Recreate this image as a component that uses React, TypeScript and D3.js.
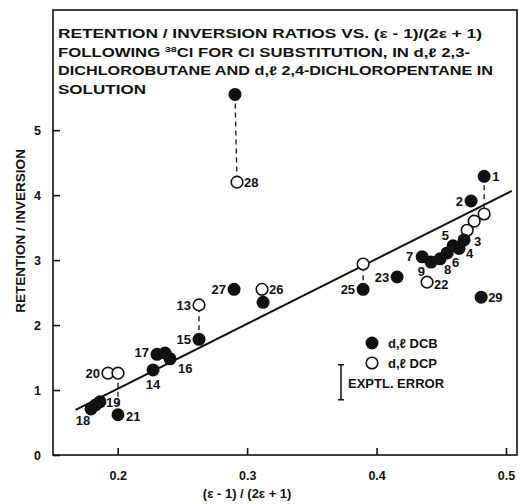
import React, { useEffect, useRef } from "react";
import * as d3 from "d3";

// d,l DCB (filled) : x = (e-1)/(2e+1), y = retention / inversion
const dcbX = [0.4831, 0.473, 0.4676, 0.4637, 0.4591, 0.4545, 0.4352, 0.4491, 0.4421, 0.2273, 0.2628, 0.2404, 0.2304, 0.2366, 0.1794, 0.1863, 0.1829, 0.2002, 0.4159, 0.3896, 0.3123, 0.2899, 0.2906, 0.4808];
const dcbY = [4.29, 3.91, 3.31, 3.18, 3.22, 3.11, 3.05, 3.02, 2.97, 1.31, 1.78, 1.48, 1.55, 1.57, 0.71, 0.82, 0.77, 0.62, 2.74, 2.55, 2.35, 2.55, 5.55, 2.43];
const dcbLabel = ["1", "2", "3", "4", "5", "6", "7", "8", "9", "14", "15", "16", "17", "", "18", "19", "", "21", "23", "25", "", "27", "", "29"];

// d,l DCP (open)
const dcpX = [0.4831, 0.4754, 0.47, 0.439, 0.3896, 0.3115, 0.2922, 0.2628, 0.1925, 0.2002];
const dcpY = [3.71, 3.6, 3.46, 2.66, 2.94, 2.55, 4.2, 2.31, 1.26, 1.26];
const dcpLabel = ["", "", "", "22", "", "26", "28", "13", "20", ""];

// pairs joined by a dashed line: [dcb index, dcp index]
const pairs = [[0, 0], [22, 6], [10, 7], [17, 9], [19, 4], [20, 5]];

// least squares line y = a x + b
const fitA = 10.0;
const fitB = -0.98;
const fitX = [0.1675, 0.5045];

const xTicks = [0.2, 0.3, 0.4, 0.5];
const yTicks = [0, 1, 2, 3, 4, 5];

// title lines, split so the isotope mass can be raised
const titleLines: string[][] = [
  ["RETENTION / INVERSION  RATIOS VS. (\u03B5 - 1)/(2\u03B5 + 1)"],
  ["FOLLOWING ", "38", "Cl FOR Cl SUBSTITUTION, IN d,\u2113 2,3-"],
  ["DICHLOROBUTANE AND d,\u2113 2,4-DICHLOROPENTANE IN"],
  ["SOLUTION"],
];

// label placement [dx, dy, anchor]
const place: Record<string, [number, number, string]> = {
  "1": [8, 5, "start"], "2": [-8, 5, "end"], "3": [10, 6, "start"], "4": [7, 10, "start"],
  "5": [-4, -6, "end"], "6": [5, 14, "start"], "7": [-9, 4, "end"], "8": [4, 15, "start"],
  "9": [-6, 14, "end"], "14": [0, 19, "middle"], "15": [-8, 5, "end"], "16": [8, 14, "start"],
  "17": [-8, 3, "end"], "18": [-8, 16, "middle"], "19": [6, 5, "start"], "21": [8, 6, "start"],
  "23": [-8, 5, "end"], "25": [-8, 5, "end"], "27": [-8, 5, "end"], "29": [7, 5, "start"],
  "22": [7, 7, "start"], "26": [7, 5, "start"], "28": [7, 5, "start"], "13": [-8, 5, "end"],
  "20": [-8, 5, "end"],
};

const W = 520, H = 504;
const margin = { left: 53, top: 10, right: 3, bottom: 49 };
const font = "'Liberation Sans', Arial, sans-serif";

export default function App() {
  const ref = useRef<SVGSVGElement>(null);

  useEffect(() => {
    const svg = d3.select(ref.current);
    svg.selectAll("*").remove();
    const iw = W - margin.left - margin.right;
    const ih = H - margin.top - margin.bottom;
    const x = d3.scaleLinear().domain([0.15, 0.5085]).range([0, iw]);
    const y = d3.scaleLinear().domain([0, 6.85]).range([ih, 0]);

    const g = svg.append("g").attr("transform", `translate(${margin.left},${margin.top})`);

    g.append("rect").attr("width", iw).attr("height", ih)
      .attr("fill", "none").attr("stroke", "#111").attr("stroke-width", 1.6);

    const xa = g.append("g").attr("transform", `translate(0,${ih})`)
      .call(d3.axisBottom(x).tickValues(xTicks).tickSize(-7).tickPadding(16).tickFormat(d3.format(".1f")));
    const ya = g.append("g")
      .call(d3.axisLeft(y).tickValues(yTicks).tickSize(-7).tickPadding(12).tickFormat(d3.format("d")));
    [xa, ya].forEach((a) => {
      a.select(".domain").remove();
      a.selectAll(".tick line").attr("stroke", "#111").attr("stroke-width", 1.6);
      a.selectAll(".tick text").attr("fill", "#111").attr("font-family", font)
        .attr("font-weight", "bold").attr("font-size", 12.5);
    });

    // fitted line
    g.append("line")
      .attr("x1", x(fitX[0])).attr("y1", y(fitA * fitX[0] + fitB))
      .attr("x2", x(fitX[1])).attr("y2", y(fitA * fitX[1] + fitB))
      .attr("stroke", "#111").attr("stroke-width", 2);

    // dashed connectors
    g.selectAll("line.pair").data(pairs).enter().append("line")
      .attr("x1", (d) => x(dcbX[d[0]])).attr("y1", (d) => y(dcbY[d[0]]))
      .attr("x2", (d) => x(dcpX[d[1]])).attr("y2", (d) => y(dcpY[d[1]]))
      .attr("stroke", "#111").attr("stroke-width", 1.3).attr("stroke-dasharray", "5,4");

    const dcb = dcbX.map((v, i) => ({ x: v, y: dcbY[i], label: dcbLabel[i] }));
    const dcp = dcpX.map((v, i) => ({ x: v, y: dcpY[i], label: dcpLabel[i] }));

    g.selectAll("circle.dcp").data(dcp).enter().append("circle")
      .attr("cx", (d) => x(d.x)).attr("cy", (d) => y(d.y)).attr("r", 5.8)
      .attr("fill", "#fff").attr("stroke", "#111").attr("stroke-width", 1.6);
    g.selectAll("circle.dcb").data(dcb).enter().append("circle")
      .attr("cx", (d) => x(d.x)).attr("cy", (d) => y(d.y)).attr("r", 6.5)
      .attr("fill", "#111");

    const labelled = [...dcb, ...dcp].filter((d) => d.label);
    g.selectAll("text.lab").data(labelled).enter().append("text")
      .attr("x", (d) => x(d.x) + place[d.label][0])
      .attr("y", (d) => y(d.y) + place[d.label][1])
      .attr("text-anchor", (d) => place[d.label][2])
      .attr("font-family", font).attr("font-weight", "bold").attr("font-size", 13)
      .attr("fill", "#111").text((d) => d.label);

    // title
    const tw = [424, 412, 435, 88];
    titleLines.forEach((parts, i) => {
      const t = g.append("text").attr("x", 5).attr("y", 28 + i * 18.5)
        .attr("textLength", tw[i]).attr("lengthAdjust", "spacingAndGlyphs")
        .attr("font-family", font).attr("font-weight", "bold").attr("font-size", 12.5)
        .attr("fill", "#111");
      parts.forEach((p, j) => {
        const isSup = parts.length > 1 && j === 1;
        t.append("tspan").attr("font-size", isSup ? 8 : 12.5)
          .attr("dy", isSup ? -5 : j > 1 ? 5 : 0).text(p);
      });
    });

    // legend
    const lx = 319, ly = 333;
    g.append("circle").attr("cx", lx).attr("cy", ly).attr("r", 6.5).attr("fill", "#111");
    g.append("circle").attr("cx", lx).attr("cy", ly + 20).attr("r", 5.8)
      .attr("fill", "#fff").attr("stroke", "#111").attr("stroke-width", 1.6);
    const leg = ["d,\u2113 DCB", "d,\u2113 DCP", "EXPTL. ERROR"];
    g.selectAll("text.leg").data(leg).enter().append("text")
      .attr("x", (d, i) => (i < 2 ? lx + 16 : lx - 24))
      .attr("y", (d, i) => ly + 5 + i * 20)
      .attr("font-family", font).attr("font-weight", "bold").attr("font-size", 13)
      .attr("fill", "#111").text((d) => d);
    // error bar
    const ex = 288, e0 = y(1.39), e1 = y(0.85);
    g.append("path").attr("d", `M${ex},${e0}V${e1}M${ex - 3},${e0}H${ex + 3}M${ex - 3},${e1}H${ex + 3}`)
      .attr("stroke", "#111").attr("stroke-width", 1.5).attr("fill", "none");

    // axis titles
    svg.append("text").attr("x", margin.left + x(0.3)).attr("y", H - 6)
      .attr("text-anchor", "middle").attr("font-family", font).attr("font-weight", "bold")
      .attr("font-size", 13).attr("fill", "#111").text("(\u03B5 - 1) / (2\u03B5 + 1)");
    svg.append("text").attr("transform", `translate(25,${margin.top + y(3.45)}) rotate(-90)`)
      .attr("text-anchor", "middle").attr("font-family", font).attr("font-weight", "bold")
      .attr("font-size", 13.5).attr("fill", "#111").text("RETENTION / INVERSION");
  }, []);

  return (
    <svg ref={ref} width={W} height={H}
      style={{ position: "absolute", left: 0, top: 0, background: "#fff" }} />
  );
}
